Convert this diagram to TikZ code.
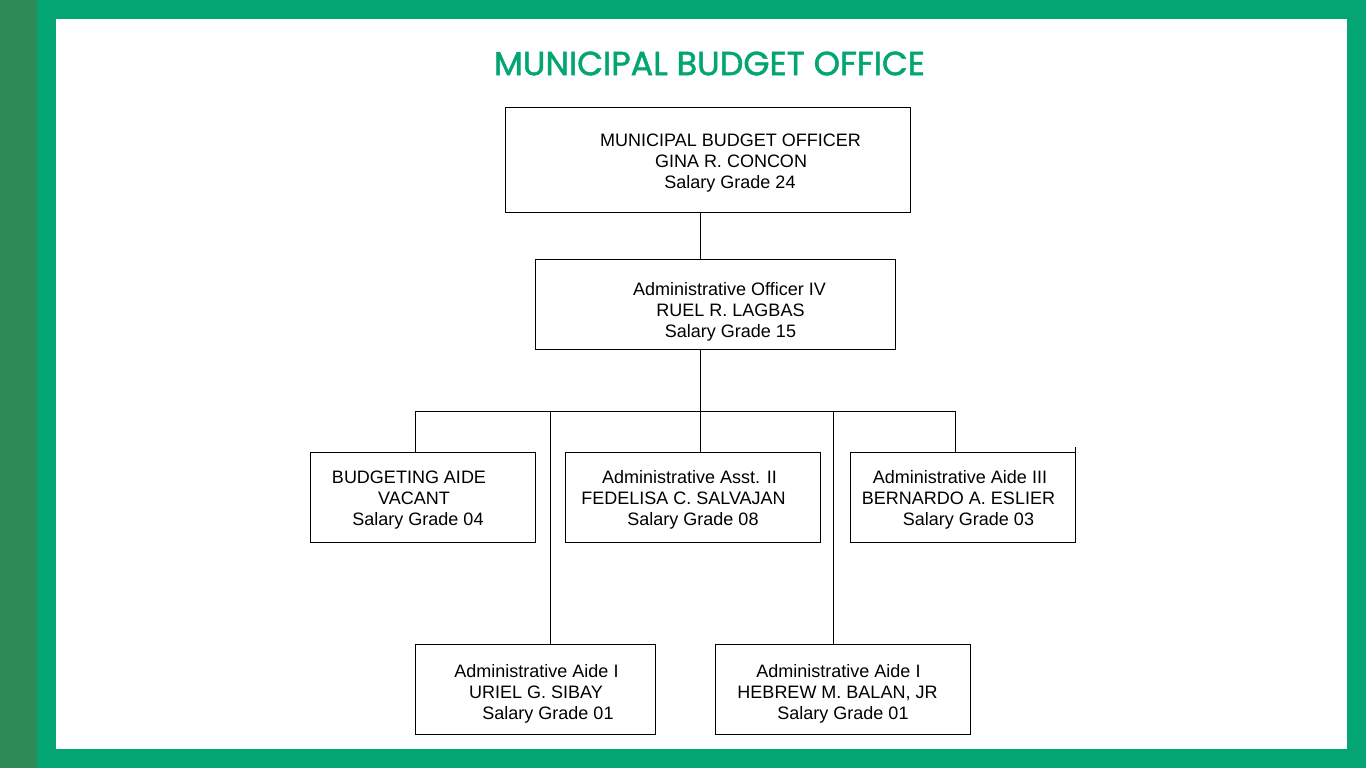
\documentclass[tikz,border=0pt]{standalone}
\usepackage{fontspec}
\setmainfont{Liberation Sans}
\newfontfamily\titlefont[FakeBold=1.5]{Poppins}
\definecolor{darkstrip}{RGB}{46,139,87}
\definecolor{brightgreen}{RGB}{3,165,114}
\newcommand\Ln[2]{\hbox to 0pt{\hss\kern#1pt\relax #2\hss}}
\tikzset{
  orgbox/.style={draw=black, line width=0.9pt, fill=white, inner sep=0pt},
  orgtext/.style={inner sep=0pt, align=center, font=\fontsize{18}{21}\selectfont},
  link/.style={draw=black, line width=0.9pt},
}
\begin{document}
\begin{tikzpicture}[x=1pt,y=-1pt]
\useasboundingbox (0,0) rectangle (1366,768);
% background frame
\fill[brightgreen] (0,0) rectangle (1366,768);
\fill[darkstrip] (0,0) rectangle (37,768);
\fill[white] (56,19) rectangle (1347,749);
% title
\node[text=brightgreen, inner sep=0pt] (title) at (709.5,63.5)
  {\resizebox{431pt}{!}{\titlefont\fontsize{38}{40}\selectfont MUNICIPAL BUDGET OFFICE}};
% boxes
\node[orgbox, minimum width=405pt, minimum height=105pt] (mbo) at (707.5,159.5) {};
\node[orgbox, minimum width=360pt, minimum height=90pt] (ao4) at (715,304) {};
\node[orgbox, minimum width=225pt, minimum height=90pt] (ba) at (422.5,497) {};
\node[orgbox, minimum width=255pt, minimum height=90pt] (aa2) at (692.5,497) {};
\node[orgbox, minimum width=225pt, minimum height=90pt] (a3) at (962.5,497) {};
\node[orgbox, minimum width=240pt, minimum height=90pt] (u) at (535,689) {};
\node[orgbox, minimum width=255pt, minimum height=90pt] (h) at (842.5,689) {};
% texts
\node[orgtext] (mbot) at (730,163) {\Ln{1}{MUNICIPAL BUDGET OFFICER}\\\Ln{2}{GINA R. CONCON}\\\Ln{0}{Salary Grade 24}};
\node[orgtext] (ao4t) at (730,312) {\Ln{-1}{Administrative Officer IV}\\\Ln{1}{RUEL R. LAGBAS}\\\Ln{1}{Salary Grade 15}};
\node[orgtext] (bat) at (414,500) {\Ln{-10}{BUDGETING AIDE}\\\Ln{0}{VACANT}\\\Ln{8}{Salary Grade 04}};
\node[orgtext] (aa2t) at (689,500) {\Ln{1}{Administrative Asst. II}\\\Ln{-11}{FEDELISA C. SALVAJAN}\\\Ln{8}{Salary Grade 08}};
\node[orgtext] (a3t) at (962,500) {\Ln{-4}{Administrative Aide III}\\\Ln{-7}{BERNARDO A. ESLIER}\\\Ln{13}{Salary Grade 03}};
\node[orgtext] (ut) at (540,694) {\Ln{-7}{Administrative Aide I}\\\Ln{-8}{URIEL G. SIBAY}\\\Ln{16}{Salary Grade 01}};
\node[orgtext] (ht) at (840,694) {\Ln{-3}{Administrative Aide I}\\\Ln{-5}{HEBREW M. BALAN, JR}\\\Ln{6}{Salary Grade 01}};
% connectors
\coordinate (d1) at (415,411);
\coordinate (d2) at (550,411);
\coordinate (d3) at (700,411);
\coordinate (d4) at (833,411);
\coordinate (d5) at (955,411);
\draw[link] (mbo.south -| d3) -- (ao4.north -| d3);
\draw[link] (ao4.south -| d3) -- (d3);
\draw[link] (d1) -- (d5);
\draw[link] (d1) -- (ba.north -| d1);
\draw[link] (d2) -- (u.north -| d2);
\draw[link] (d3) -- (aa2.north -| d3);
\draw[link] (d4) -- (h.north -| d4);
\draw[link] (d5) -- (a3.north -| d5);
\draw[link] (a3.north east) -- ++(0,-5);
\end{tikzpicture}
\end{document}
